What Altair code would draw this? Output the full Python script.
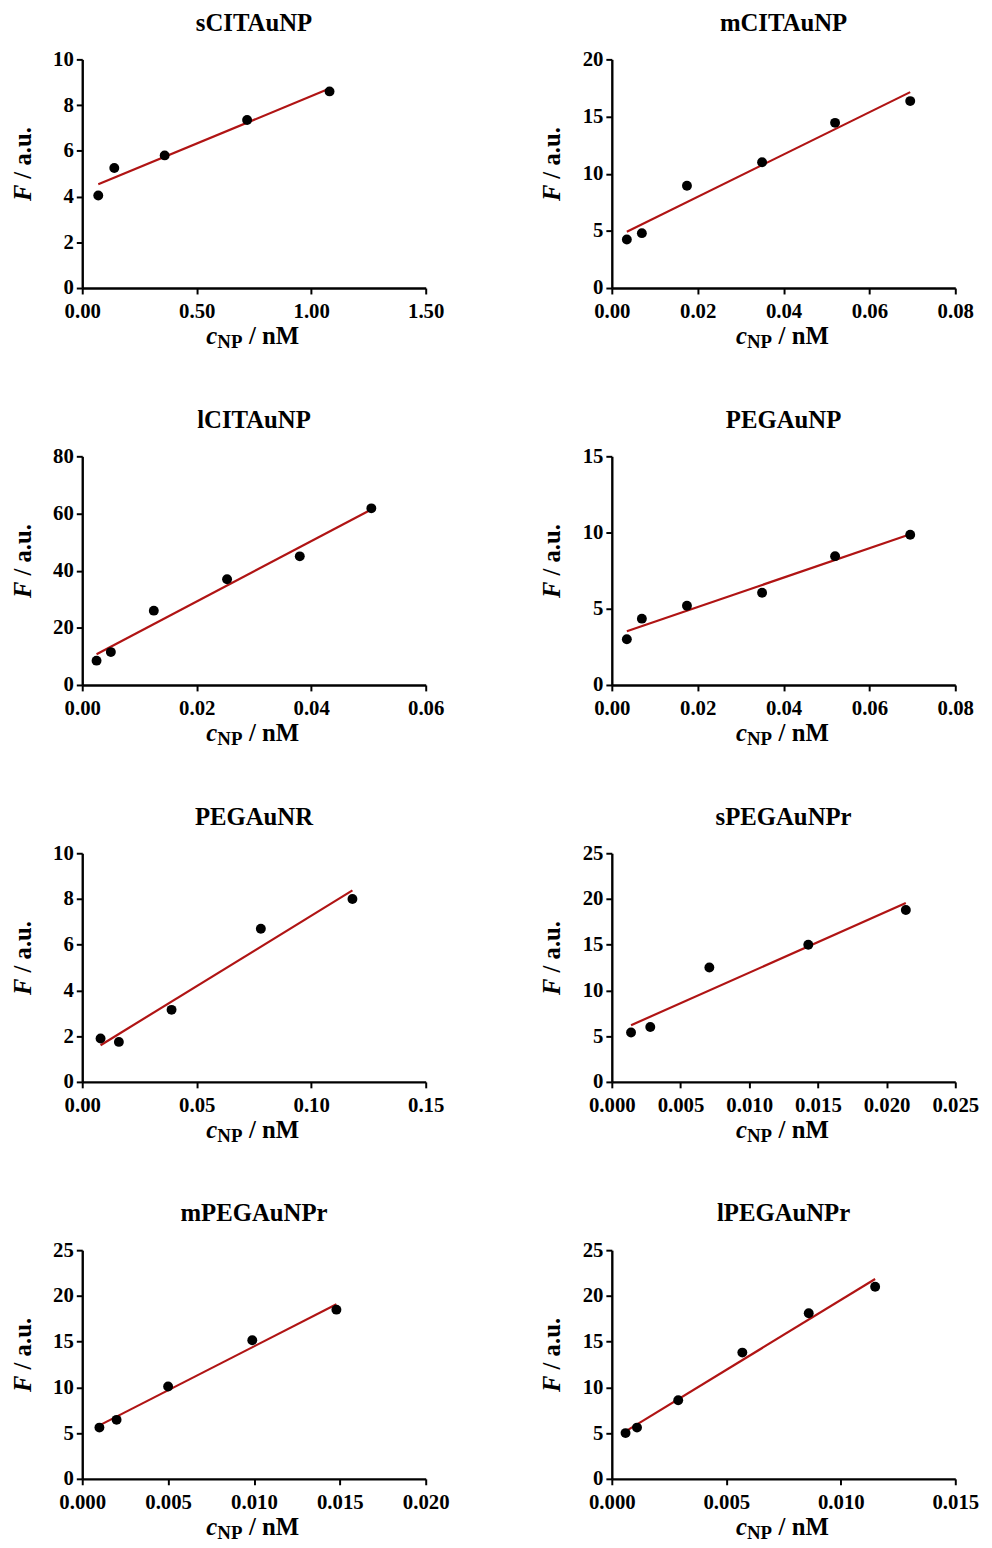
import altair as alt
import pandas as pd

FONT = "Liberation Serif"
LINE_COLOR = "#B01414"

titles = ["sCITAuNP", "mCITAuNP", "lCITAuNP", "PEGAuNP",
          "PEGAuNR", "sPEGAuNPr", "mPEGAuNPr", "lPEGAuNPr"]

scit_x = [0.07, 0.14, 0.36, 0.72, 1.08]
scit_y = [4.05, 5.25, 5.8, 7.35, 8.6]
mcit_x = [0.0035, 0.007, 0.0175, 0.035, 0.052, 0.0695]
mcit_y = [4.25, 4.8, 8.95, 11.0, 14.45, 16.35]
lcit_x = [0.0025, 0.005, 0.0125, 0.0253, 0.038, 0.0505]
lcit_y = [8.5, 11.5, 26.0, 37.0, 45.0, 61.8]
pegnp_x = [0.0035, 0.007, 0.0175, 0.035, 0.052, 0.0695]
pegnp_y = [3.0, 4.35, 5.2, 6.05, 8.45, 9.85]
pegnr_x = [0.008, 0.016, 0.039, 0.078, 0.118]
pegnr_y = [1.9, 1.75, 3.15, 6.7, 8.0]
spegr_x = [0.0014, 0.0028, 0.0071, 0.0143, 0.0214]
spegr_y = [5.4, 6.0, 12.5, 15.0, 18.8]
mpegr_x = [0.001, 0.002, 0.005, 0.0099, 0.0148]
mpegr_y = [5.6, 6.45, 10.1, 15.15, 18.5]
lpegr_x = [0.0006, 0.0011, 0.0029, 0.0057, 0.0086, 0.0115]
lpegr_y = [5.0, 5.6, 8.6, 13.8, 18.1, 21.0]

scit_xticks = [0.0, 0.5, 1.0, 1.5]
cit_xticks_08 = [0.0, 0.02, 0.04, 0.06, 0.08]
lcit_xticks = [0.0, 0.02, 0.04, 0.06]
pegnr_xticks = [0.0, 0.05, 0.10, 0.15]
spegr_xticks = [0.0, 0.005, 0.010, 0.015, 0.020, 0.025]
mpegr_xticks = [0.0, 0.005, 0.010, 0.015, 0.020]
lpegr_xticks = [0.0, 0.005, 0.010, 0.015]

y10_ticks = [0, 2, 4, 6, 8, 10]
y20_ticks = [0, 5, 10, 15, 20]
y80_ticks = [0, 20, 40, 60, 80]
y15_ticks = [0, 5, 10, 15]
y25_ticks = [0, 5, 10, 15, 20, 25]

W, H = 347, 231


def txt(s, x, y, size, italic=False, align="left", angle=0, baseline="alphabetic"):
    return alt.Chart(pd.DataFrame({"t": [s]})).mark_text(
        font=FONT, fontSize=size, fontWeight="bold",
        fontStyle="italic" if italic else "normal",
        align=align, baseline=baseline, angle=angle, color="black",
    ).encode(x=alt.value(x), y=alt.value(y), text="t:N")


def panel(xs, ys, title, xticks, xfmt, yticks):
    df = pd.DataFrame({"x": xs, "y": ys})
    xenc = alt.X("x:Q", scale=alt.Scale(domain=[xticks[0], xticks[-1]], nice=False),
                 axis=alt.Axis(values=xticks, format=xfmt, title="", labelPadding=7))
    yenc = alt.Y("y:Q", scale=alt.Scale(domain=[yticks[0], yticks[-1]], nice=False),
                 axis=alt.Axis(values=yticks, format="d", title="", labelPadding=3))
    base = alt.Chart(df)
    line = base.transform_regression("x", "y").mark_line(
        color=LINE_COLOR, strokeWidth=2.2).encode(x=xenc, y=yenc)
    pts = base.mark_point(filled=True, size=100, color="black", opacity=1).encode(x=xenc, y=yenc)
    cx = W / 2
    texts = [
        txt("c", cx - 37, H + 57, 25, italic=True, align="right"),
        txt("NP", cx - 37, H + 61, 19),
        txt("/ nM", cx - 5, H + 57, 25),
        txt("F", -60, H / 2 + 11, 25, italic=True, align="right", angle=270, baseline="middle"),
        txt("/ a.u.", -60, H / 2 + 5, 25, align="left", angle=270, baseline="middle"),
    ]
    return alt.layer(line, pts, *texts).properties(
        width=W, height=H,
        title=alt.TitleParams(title, font=FONT, fontSize=25, fontWeight="bold",
                              color="black", anchor="middle", frame="group", offset=13),
    )


panels = [
    panel(scit_x, scit_y, titles[0], scit_xticks, ".2f", y10_ticks),
    panel(mcit_x, mcit_y, titles[1], cit_xticks_08, ".2f", y20_ticks),
    panel(lcit_x, lcit_y, titles[2], lcit_xticks, ".2f", y80_ticks),
    panel(pegnp_x, pegnp_y, titles[3], cit_xticks_08, ".2f", y15_ticks),
    panel(pegnr_x, pegnr_y, titles[4], pegnr_xticks, ".2f", y10_ticks),
    panel(spegr_x, spegr_y, titles[5], spegr_xticks, ".3f", y25_ticks),
    panel(mpegr_x, mpegr_y, titles[6], mpegr_xticks, ".3f", y25_ticks),
    panel(lpegr_x, lpegr_y, titles[7], lpegr_xticks, ".3f", y25_ticks),
]

chart = alt.concat(
    *panels, columns=2, spacing={"row": 56, "column": 92}
).properties(
    background="white", padding={"top": -5, "left": 3, "right": 5, "bottom": 0}
).configure_view(
    stroke=None
).configure_axis(
    grid=False, domainColor="black", domainWidth=2.4, tickColor="black", tickWidth=2,
    tickSize=6, labelFont=FONT, labelFontSize=21, labelFontWeight="bold",
    labelColor="black", labelFlush=False, labelOverlap=False,
)

chart.save("out.html", embed_options={"renderer": "svg", "actions": False})
